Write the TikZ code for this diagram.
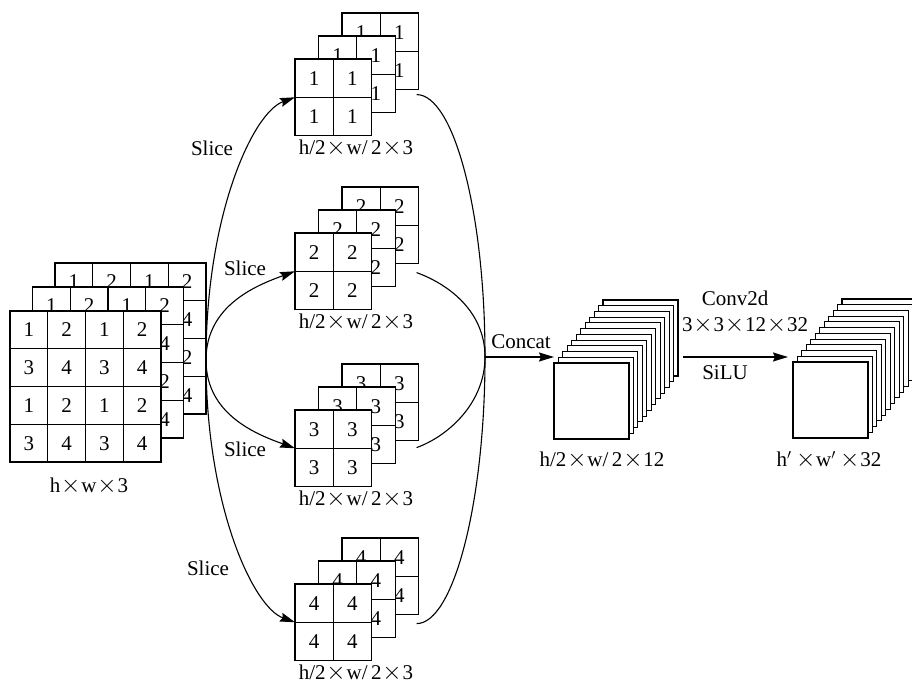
\documentclass[tikz,border=0pt]{standalone}
\usepackage{fontspec}
\setmainfont{Liberation Serif}
\usepackage{tikz}
\usetikzlibrary{arrows.meta,calc}
\newcommand{\tms}{\makebox[1em]{\fontsize{27}{27}\selectfont$\times$}}
\tikzset{
  sheet/.style={
    rectangle,
    draw=black,
    fill=white,
    line width=1.1pt,
    inner sep=0pt,
    outer sep=0pt,
    anchor=north west,
  },
  grid line/.style={line width=1.1pt},
  digit/.style={font=\fontsize{21}{24}\selectfont, inner sep=0pt},
  dim label/.style={font=\fontsize{21}{24}\selectfont, inner sep=1pt},
  op label/.style={font=\fontsize{21}{24}\selectfont, inner sep=1pt},
  flow arrow/.style={-{Stealth[length=15pt,width=9pt,inset=2pt]}, line width=1.1pt},
  flow line/.style={line width=1.1pt},
}

\begin{document}
\begin{tikzpicture}[x=1pt,y=1pt]
  \useasboundingbox (0,0) rectangle (912,-687);

  % input h x w x 3, back sheet first
  \foreach \k in {2,1,0} {
    \begin{scope}[shift={(10+22.5*\k,-311+24*\k)}]
      \node[sheet, minimum width=151pt, minimum height=151pt] (in\k) at (0,0) {};
      \foreach \m in {1,2,3} {
        \draw[grid line] (37.75*\m,0) -- (37.75*\m,-151);
        \draw[grid line] (0,-37.75*\m) -- (151,-37.75*\m);
      }
      \foreach \row in {0,...,3}
        \foreach \col in {0,...,3} {
          \pgfmathtruncatemacro{\dig}{1+mod(\col,2)+2*mod(\row,2)}
          \node[digit] (in\k-\row\col) at (18.9+37.75*\col,-18.9-37.75*\row) {\dig};
        }
    \end{scope}
  }
  \node[dim label] (in label) at (89,-486) {h\tms w\tms 3};

  % the four slices
  \foreach \s/\ty/\n in {A/59/1,B/233/2,C/410/3,D/584/4} {
    \foreach \k in {2,1,0} {
      \begin{scope}[shift={(295+23.5*\k,-\ty+23*\k)}]
        \node[sheet, minimum width=76.6pt, minimum height=76.6pt] (s\s\k) at (0,0) {};
        \draw[grid line] (38.3,0) -- (38.3,-76.6);
        \draw[grid line] (0,-38.3) -- (76.6,-38.3);
        \foreach \row in {0,1}
          \foreach \col in {0,1}
            \node[digit] (s\s\k-\row\col) at (19.15+38.3*\col,-19.15-38.3*\row) {\n};
      \end{scope}
    }
    \node[dim label] (s\s label) at (356,-\ty-89) {h/2\tms w/\,2\tms 3};
  }

  % concat h/2 x w/2 x 12
  \foreach \k in {11,10,...,0}
    \node[sheet, minimum width=75pt, minimum height=76pt] (cat\k) at (554+4.45*\k,-363+5.73*\k) {};
  \node[dim label] (cat label) at (602,-460) {h/2\tms w/\,2\tms 12};

  % conv output
  \foreach \k in {11,10,...,0}
    \node[sheet, minimum width=75pt, minimum height=76pt] (out\k) at (793+4.45*\k,-362+5.73*\k) {};
  \node[dim label] (out label) at (829,-460) {h$'$\,\tms w$'$\,\tms 32};

  % slice arrows
  \coordinate (split) at (206,-360);
  \draw[flow arrow] (split) to[out=90,in=200,out distance=145pt,in distance=45pt] (sA0.west);
  \draw[flow arrow] (split) to[out=90,in=200,out distance=55pt,in distance=40pt] (sB0.west);
  \draw[flow arrow] (split) to[out=-90,in=160,out distance=55pt,in distance=40pt] (sC0.west);
  \draw[flow arrow] (split) to[out=-90,in=160,out distance=145pt,in distance=45pt] (sD0.west);
  \node[op label] (slice A) at (212,-148) {Slice};
  \node[op label] (slice B) at (245,-268) {Slice};
  \node[op label] (slice C) at (245,-449) {Slice};
  \node[op label] (slice D) at (208,-568) {Slice};

  % gather into concat
  \coordinate (merge) at (485,-357);
  \coordinate (endA) at ($(sA2.south east)+(-2,-5)$);
  \coordinate (endB) at ($(sB2.south east)+(-2,-9)$);
  \coordinate (endC) at ($(sC2.south east)+(-2,-7)$);
  \coordinate (endD) at ($(sD2.south east)+(-2,-9)$);
  \draw[flow line] (endA) to[out=0,in=90,out distance=37pt,in distance=145pt] (merge);
  \draw[flow line] (endB) to[out=-20,in=90,out distance=35pt,in distance=45pt] (merge);
  \draw[flow line] (endC) to[out=20,in=-90,out distance=35pt,in distance=45pt] (merge);
  \draw[flow line] (endD) to[out=0,in=-90,out distance=37pt,in distance=145pt] (merge);
  \draw[flow arrow, line width=1.5pt] (merge) -- (merge -| cat0.west);
  \node[op label] (concat) at (521,-342) {Concat};

  % conv2d + SiLU
  \coordinate (conv start) at (683,-357);
  \draw[flow arrow, line width=1.5pt] (conv start) -- ([xshift=-5pt]conv start -| out0.west);
  \node[op label] (conv) at (735,-298) {Conv2d};
  \node[op label] (kernel) at (745,-325) {3\tms 3\tms 12\tms 32};
  \node[op label] (act) at (725,-373) {SiLU};
\end{tikzpicture}
\end{document}
